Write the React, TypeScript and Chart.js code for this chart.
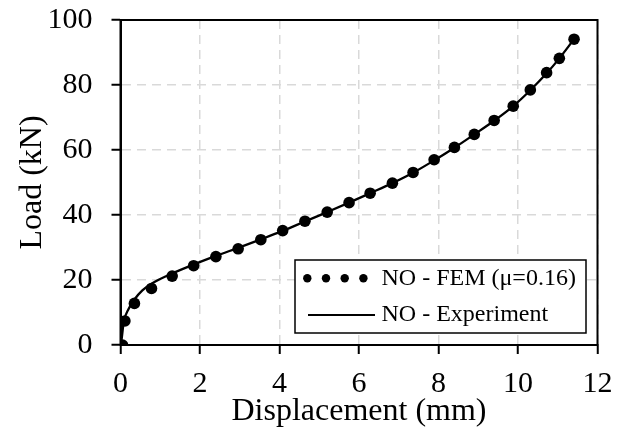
import React, { useEffect, useRef } from "react";
import { Chart, registerables } from "chart.js";

Chart.register(...registerables);

// FEM (points only)
const femDisp = [0.05, 0.11, 0.35, 0.78, 1.3, 1.84, 2.4, 2.96, 3.53, 4.08, 4.64, 5.2, 5.75, 6.28, 6.84, 7.36, 7.89, 8.4, 8.9, 9.4, 9.88, 10.31, 10.72, 11.04, 11.41];
const femLoad = [0, 7.4, 12.8, 17.4, 21.2, 24.4, 27.2, 29.6, 32.4, 35.2, 38.1, 40.9, 43.8, 46.7, 49.8, 53.1, 57.0, 60.8, 64.8, 69.1, 73.5, 78.5, 83.8, 88.2, 94.1];

// Experiment (solid line)
const expDisp = [0, 0.03, 0.08, 0.2, 0.35, 0.55, 0.8, 1.3, 1.85, 2.4, 2.96, 3.53, 4.08, 4.64, 5.2, 5.75, 6.28, 6.84, 7.36, 7.89, 8.4, 8.9, 9.4, 9.88, 10.31, 10.72, 11.04, 11.41];
const expLoad = [0, 2, 7, 11, 14, 16.8, 19, 22, 24.8, 27.4, 29.9, 32.5, 35.1, 38, 40.9, 43.8, 46.7, 49.8, 53, 56.8, 60.7, 64.8, 69, 73.5, 78.4, 83.6, 88.2, 94.1];

const seriesLabels = ["NO - FEM (\u03bc=0.16)", "NO - Experiment"];
const xTitle = "Displacement (mm)";
const yTitle = "Load (kN)";
const xRange = [0, 12, 2];
const yRange = [0, 100, 20];

const FONT = "'Liberation Serif', 'Times New Roman', serif";

const framePlugin = {
  id: "frameLegend",
  afterDraw(chart: any) {
    const { ctx, chartArea: a } = chart;
    ctx.save();
    ctx.setLineDash([]);
    ctx.strokeStyle = "#000";
    ctx.lineWidth = 2;
    ctx.strokeRect(a.left, a.top, a.right - a.left, a.bottom - a.top);

    // legend box
    const left = a.right - 302.5;
    const top = a.bottom - 85;
    const right = a.right - 11.5;
    const bottom = a.bottom - 12;
    ctx.fillStyle = "#fff";
    ctx.fillRect(left, top, right - left, bottom - top);
    ctx.lineWidth = 1.5;
    ctx.strokeRect(left, top, right - left, bottom - top);

    const row1 = top + 18.3;
    const row2 = top + 55;
    ctx.fillStyle = "#000";
    for (let i = 0; i < 4; i++) {
      ctx.beginPath();
      ctx.arc(left + 12.3 + i * 18.7, row1, 4.2, 0, Math.PI * 2);
      ctx.fill();
    }
    ctx.beginPath();
    ctx.lineWidth = 1.8;
    ctx.moveTo(left + 13, row2);
    ctx.lineTo(left + 80, row2);
    ctx.stroke();

    ctx.font = `24px ${FONT}`;
    ctx.textAlign = "left";
    ctx.textBaseline = "middle";
    ctx.fillText(seriesLabels[0], left + 86.5, row1);
    ctx.fillText(seriesLabels[1], left + 86.5, row2);
    ctx.restore();
  },
};

export default function App() {
  const ref = useRef<HTMLCanvasElement | null>(null);

  useEffect(() => {
    if (!ref.current) return;
    const gridCommon = {
      color: "#d9d9d9",
      lineWidth: 1.5,
      tickColor: "#000",
      tickWidth: 2,
      tickLength: 9,
      tickBorderDash: [],
      drawTicks: true,
    };
    const borderCommon = { display: true, color: "#000", width: 2, dash: [9, 6] };
    const chart = new Chart(ref.current, {
      type: "scatter",
      data: {
        datasets: [
          {
            label: seriesLabels[1],
            data: expDisp.map((x, i) => ({ x, y: expLoad[i] })),
            showLine: true,
            borderColor: "#000",
            borderWidth: 2.3,
            pointRadius: 0,
            cubicInterpolationMode: "monotone",
            order: 2,
          },
          {
            label: seriesLabels[0],
            data: femDisp.map((x, i) => ({ x, y: femLoad[i] })),
            showLine: false,
            backgroundColor: "#000",
            borderColor: "#000",
            borderWidth: 0,
            pointRadius: 5.8,
            order: 1,
          },
        ],
      },
      options: {
        animation: false,
        responsive: false,
        devicePixelRatio: 1,
        layout: { padding: { top: 20, right: 25.5, left: 0, bottom: 0 } },
        plugins: { legend: { display: false }, tooltip: { enabled: false } },
        scales: {
          x: {
            type: "linear",
            min: xRange[0],
            max: xRange[1],
            afterFit: (s: any) => {
              s.height = 93;
              s.paddingLeft = 0;
              s.paddingRight = 0;
            },
            ticks: {
              stepSize: xRange[2],
              color: "#000",
              padding: 12,
              font: { family: FONT, size: 30 },
            },
            grid: gridCommon,
            border: borderCommon,
            title: {
              display: true,
              text: xTitle,
              color: "#000",
              font: { family: FONT, size: 32 },
              padding: { top: 0, bottom: 7 },
            },
          },
          y: {
            type: "linear",
            min: yRange[0],
            max: yRange[1],
            afterFit: (s: any) => {
              s.width = 120.5;
              s.paddingTop = 0;
              s.paddingBottom = 0;
            },
            ticks: {
              stepSize: yRange[2],
              color: "#000",
              padding: 19,
              font: { family: FONT, size: 30 },
            },
            grid: gridCommon,
            border: borderCommon,
            title: {
              display: true,
              text: yTitle,
              color: "#000",
              font: { family: FONT, size: 32 },
              padding: { top: 13, bottom: 0 },
            },
          },
        },
      },
      plugins: [framePlugin],
    });
    return () => chart.destroy();
  }, []);

  return (
    <div style={{ position: "absolute", left: 0, top: 0, width: 623, height: 438, background: "#fff" }}>
      <canvas ref={ref} width={623} height={438} style={{ display: "block" }} />
    </div>
  );
}
